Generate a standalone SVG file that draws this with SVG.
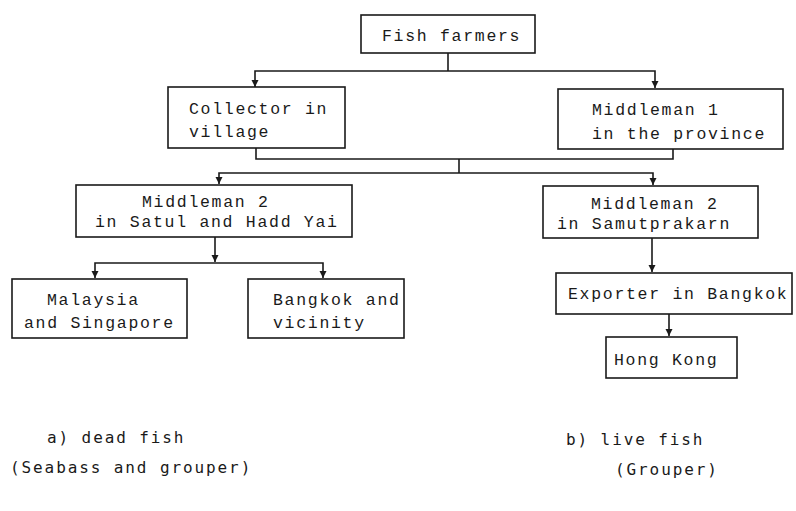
<svg xmlns="http://www.w3.org/2000/svg" width="796" height="511" viewBox="0 0 796 511">
<style>
.box{fill:#fff;stroke:#1a1a1a;stroke-width:1.6}
.t{font-family:"Liberation Mono","Courier New",monospace;font-size:16.5px;letter-spacing:1.7px;fill:#1a1a1a}
.c{fill:none;stroke:#1a1a1a;stroke-width:1.6}
.cap{font-family:"DejaVu Sans Mono","Liberation Mono",monospace;font-size:16px;letter-spacing:1.9px;fill:#1a1a1a}
</style>
<defs>
<marker id="ah" markerWidth="8" markerHeight="8" refX="7" refY="4" orient="auto" markerUnits="userSpaceOnUse">
<path d="M0,0.5 L7,4 L0,7.5 Z" fill="#1a1a1a"/>
</marker>
</defs>
<rect width="796" height="511" fill="#fff"/>
<g id="connectors">
<path class="c" d="M448,53 V71"/>
<path class="c" d="M448,71 H255 V87" marker-end="url(#ah)"/>
<path class="c" d="M448,71 H655 V88" marker-end="url(#ah)"/>
<path class="c" d="M256,148 V159 H673 V149"/>
<path class="c" d="M459,159 V173"/>
<path class="c" d="M459,173 H219 V184" marker-end="url(#ah)"/>
<path class="c" d="M459,173 H653 V185" marker-end="url(#ah)"/>
<path class="c" d="M215,237 V262" marker-end="url(#ah)"/>
<path class="c" d="M215,263 H95 V278" marker-end="url(#ah)"/>
<path class="c" d="M215,263 H323 V278" marker-end="url(#ah)"/>
<path class="c" d="M652,238 V272" marker-end="url(#ah)"/>
<path class="c" d="M669,314 V336" marker-end="url(#ah)"/>
</g>
<g id="fish-farmers">
<rect class="box" x="361" y="15" width="174" height="38"/>
<text class="t" x="382" y="41">Fish farmers</text>
</g>
<g id="collector">
<rect class="box" x="168" y="87" width="177" height="61"/>
<text class="t" x="189" y="114">Collector in</text>
<text class="t" x="189" y="137">village</text>
</g>
<g id="middleman1">
<rect class="box" x="558" y="89" width="225" height="60"/>
<text class="t" x="592" y="115">Middleman 1</text>
<text class="t" x="592" y="139">in the province</text>
</g>
<g id="middleman2-satul">
<rect class="box" x="76" y="185" width="276" height="52"/>
<text class="t" x="142" y="207">Middleman 2</text>
<text class="t" x="95" y="227">in Satul and Hadd Yai</text>
</g>
<g id="middleman2-samut">
<rect class="box" x="543" y="186" width="215" height="52"/>
<text class="t" x="591" y="209">Middleman 2</text>
<text class="t" x="557" y="229">in Samutprakarn</text>
</g>
<g id="malaysia">
<rect class="box" x="12" y="279" width="175" height="59"/>
<text class="t" x="47" y="305">Malaysia</text>
<text class="t" x="24" y="328">and Singapore</text>
</g>
<g id="bangkok">
<rect class="box" x="248" y="279" width="156" height="59"/>
<text class="t" x="273" y="305">Bangkok and</text>
<text class="t" x="273" y="328">vicinity</text>
</g>
<g id="exporter">
<rect class="box" x="556" y="273" width="236" height="41"/>
<text class="t" x="568" y="299">Exporter in Bangkok</text>
</g>
<g id="hongkong">
<rect class="box" x="606" y="337" width="131" height="41"/>
<text class="t" x="614" y="365">Hong Kong</text>
</g>
<g id="captions">
<text class="cap" x="47" y="443">a) dead fish</text>
<text class="cap" x="10" y="473">(Seabass and grouper)</text>
<text class="cap" x="566" y="445">b) live fish</text>
<text class="cap" x="615" y="475">(Grouper)</text>
</g>
</svg>
